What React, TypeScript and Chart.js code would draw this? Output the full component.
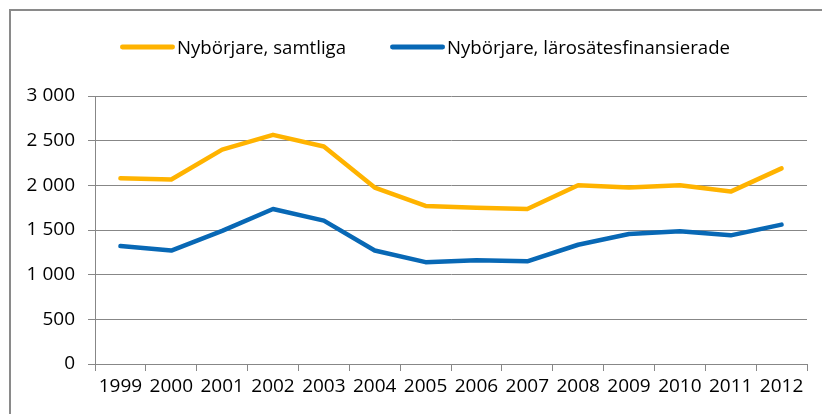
import React, { useEffect, useRef } from "react";
import { Chart, registerables } from "chart.js";

Chart.register(...registerables);

const years = ["1999", "2000", "2001", "2002", "2003", "2004", "2005", "2006", "2007", "2008", "2009", "2010", "2011", "2012"];
const samtliga = [2080, 2065, 2400, 2565, 2435, 1975, 1770, 1750, 1735, 2000, 1975, 2000, 1930, 2190];
const larosatesfinansierade = [1320, 1270, 1490, 1735, 1605, 1270, 1140, 1160, 1150, 1335, 1455, 1485, 1440, 1560];
const seriesNames = ["Nybörjare, samtliga", "Nybörjare, lärosätesfinansierade"];
const yMin = 0;
const yMax = 3000;
const yStep = 500;

const ORANGE = "#FFB300";
const BLUE = "#0868B5";
const GRID = "#878787";
const TICK_FONT = "Open Sans";

function fmt(v: number): string {
  if (v >= 1000) {
    const th = Math.floor(v / 1000);
    const rest = String(v % 1000).padStart(3, "0");
    return `${th} ${rest}`;
  }
  return String(v);
}

const framePlugin = {
  id: "frame",
  beforeDraw(chart: any) {
    const ctx = chart.ctx;
    ctx.save();
    ctx.fillStyle = "#ffffff";
    ctx.fillRect(0, 0, chart.width, chart.height);
    ctx.strokeStyle = "#8a8a8a";
    ctx.lineWidth = 2;
    ctx.beginPath();
    ctx.moveTo(10, chart.height + 5);
    ctx.lineTo(10, 10);
    ctx.lineTo(chart.width + 5, 10);
    ctx.stroke();
    ctx.restore();
  },
};

const legendPlugin = {
  id: "customLegend",
  afterDraw(chart: any) {
    const ctx = chart.ctx;
    ctx.save();
    const y = 47;
    let x = 120;
    const lineLen = 55;
    ctx.font = `18.6px "${TICK_FONT}"`;
    ctx.textBaseline = "alphabetic";
    ctx.textAlign = "left";
    chart.data.datasets.forEach((ds: any) => {
      ctx.strokeStyle = ds.borderColor;
      ctx.lineWidth = 4.8;
      ctx.lineCap = "round";
      ctx.beginPath();
      ctx.moveTo(x + 2.4, y);
      ctx.lineTo(x + lineLen - 2.4, y);
      ctx.stroke();
      x += lineLen + 2;
      ctx.fillStyle = "#000000";
      ctx.fillText(ds.label, x, y + 6.8);
      x += ctx.measureText(ds.label).width + 44;
    });
    ctx.restore();
  },
};

export default function App() {
  const ref = useRef<HTMLCanvasElement | null>(null);
  useEffect(() => {
    document.body.style.margin = "0";
    const canvas = ref.current;
    if (!canvas) return;
    const chart = new Chart(canvas, {
      type: "line",
      data: {
        labels: years,
        datasets: [
          {
            label: seriesNames[0],
            data: samtliga,
            borderColor: ORANGE,
            backgroundColor: ORANGE,
            borderWidth: 4.5,
            pointRadius: 0,
            tension: 0,
            borderCapStyle: "round",
            borderJoinStyle: "round",
          },
          {
            label: seriesNames[1],
            data: larosatesfinansierade,
            borderColor: BLUE,
            backgroundColor: BLUE,
            borderWidth: 4.5,
            pointRadius: 0,
            tension: 0,
            borderCapStyle: "round",
            borderJoinStyle: "round",
          },
        ],
      },
      options: {
        responsive: false,
        animation: false,
        devicePixelRatio: 1,
        layout: { padding: { left: 0, right: 15, top: 96, bottom: 0 } },
        plugins: {
          legend: { display: false },
          tooltip: { enabled: false },
        },
        scales: {
          x: {
            type: "category",
            offset: true,
            grid: {
              offset: true,
              drawOnChartArea: false,
              drawTicks: true,
              tickLength: 7,
              color: GRID,
              lineWidth: 1,
            },
            border: { display: true, color: GRID, width: 1 },
            ticks: {
              color: "#000000",
              font: { family: TICK_FONT, size: 19 },
              padding: 4,
              maxRotation: 0,
              autoSkip: false,
            },
            afterFit: (s: any) => {
              s.height = 50;
            },
          },
          y: {
            min: yMin,
            max: yMax,
            grid: {
              color: GRID,
              lineWidth: 1,
              drawTicks: true,
              tickLength: 7,
            },
            border: { display: true, color: GRID, width: 1 },
            ticks: {
              stepSize: yStep,
              color: "#000000",
              font: { family: TICK_FONT, size: 19 },
              padding: 13,
              callback: (v: any) => fmt(Number(v)),
            },
            afterFit: (s: any) => {
              s.width = 95;
            },
          },
        },
      },
      plugins: [framePlugin, legendPlugin],
    });
    return () => chart.destroy();
  }, []);
  return (
    <div style={{ width: 822, height: 414 }}>
      <canvas ref={ref} width={822} height={414} style={{ display: "block", width: 822, height: 414 }} />
    </div>
  );
}
